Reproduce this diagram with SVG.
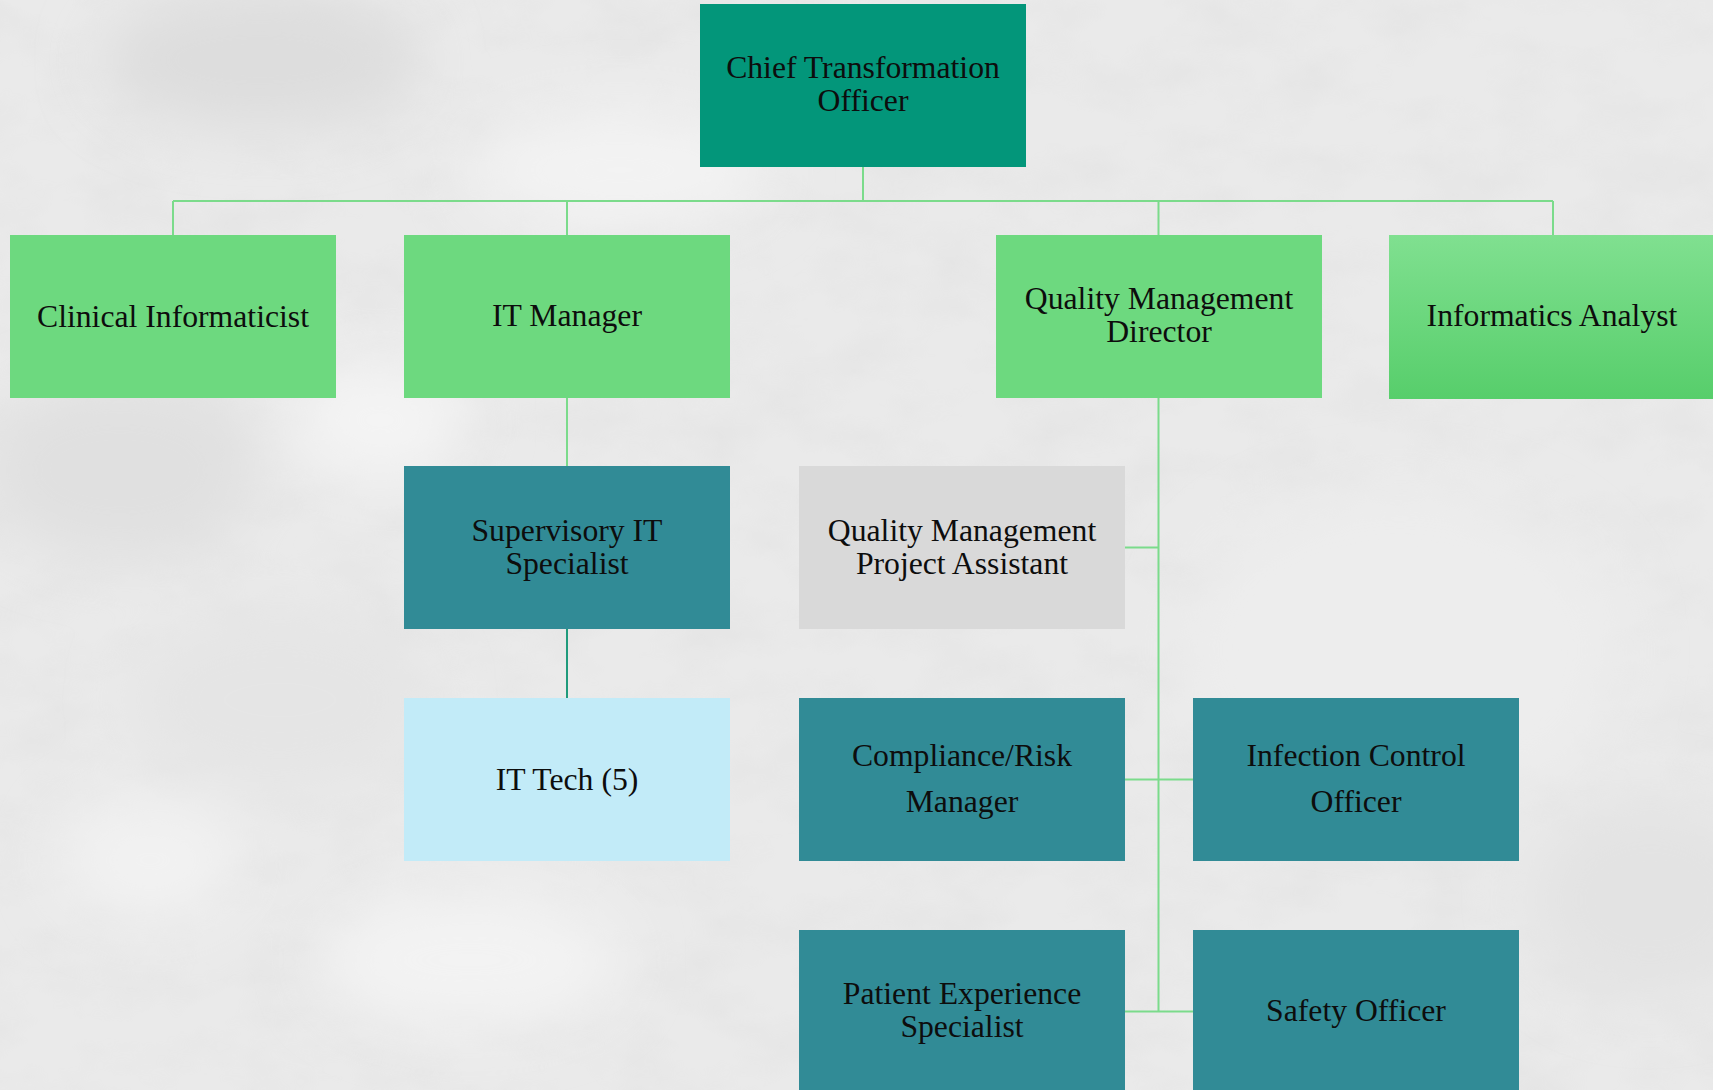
<svg xmlns="http://www.w3.org/2000/svg" width="1713" height="1090" viewBox="0 0 1713 1090">
  <defs>
    <style>
      .lbl { font-family: "Liberation Serif", "Times New Roman", serif; font-size: 31.7px; fill: #0d0d0d; text-anchor: middle; }
      .con { fill: none; stroke: #7bdb8b; stroke-width: 2; }
      .con-dark { fill: none; stroke: #1f9b7c; stroke-width: 2; }
      .root { fill: #03967a; }
      .green { fill: #6dd97f; }
      .teal { fill: #318b96; }
      .gray { fill: #d9d9d9; }
      .blue { fill: #c2ebf8; }
    </style>
    <linearGradient id="gGrad" x1="0" y1="0" x2="0" y2="1">
      <stop offset="0" stop-color="#80e090"/>
      <stop offset="1" stop-color="#57ce6b"/>
    </linearGradient>
    <filter id="blur" x="-50%" y="-50%" width="200%" height="200%">
      <feGaussianBlur stdDeviation="30"/>
    </filter>
    <filter id="noise" x="0" y="0" width="100%" height="100%">
      <feTurbulence type="fractalNoise" baseFrequency="0.012 0.02" numOctaves="4" seed="7"/>
      <feColorMatrix type="matrix" values="0 0 0 0 0.5  0 0 0 0 0.5  0 0 0 0 0.5  0 0 0 -1.4 0.85"/>
    </filter>
  </defs>

  <!-- background -->
  <g id="background">
    <rect x="0" y="0" width="1713" height="1090" fill="#eaeaea"/>
    <rect x="0" y="0" width="1713" height="1090" filter="url(#noise)" opacity="0.14"/>
    <g filter="url(#blur)">
      <ellipse cx="260" cy="60" rx="160" ry="70" fill="#dddddd"/>
      <ellipse cx="120" cy="470" rx="140" ry="90" fill="#e0e0e0"/>
      <ellipse cx="380" cy="420" rx="90" ry="60" fill="#f4f4f4"/>
      <ellipse cx="150" cy="860" rx="90" ry="60" fill="#f2f2f2"/>
      <ellipse cx="470" cy="960" rx="150" ry="70" fill="#f3f3f3"/>
      <ellipse cx="620" cy="170" rx="150" ry="60" fill="#f3f3f3"/>
      <ellipse cx="1400" cy="650" rx="220" ry="160" fill="#ededed"/>
      <ellipse cx="1650" cy="900" rx="120" ry="100" fill="#e3e3e3"/>
      <ellipse cx="280" cy="700" rx="150" ry="90" fill="#e5e5e5"/>
    </g>
  </g>

  <!-- connectors -->
  <g id="connectors">
    <path class="con" d="M863 167 V201"/>
    <path class="con" d="M173 201 H1553"/>
    <path class="con" d="M173 201 V235"/>
    <path class="con" d="M567 201 V235"/>
    <path class="con" d="M1158.5 201 V235"/>
    <path class="con" d="M1553 201 V235"/>
    <path class="con" d="M567 398 V466"/>
    <path class="con-dark" d="M567 629 V698"/>
    <path class="con" d="M1158.5 398 V1011.5"/>
    <path class="con" d="M1124 547.5 H1158.5"/>
    <path class="con" d="M1124 779.5 H1193"/>
    <path class="con" d="M1124 1011.5 H1193"/>
  </g>

  <!-- nodes -->
  <g id="node-cto">
    <rect class="root" x="700" y="4" width="326" height="163"/>
    <text class="lbl" x="863" y="78">Chief Transformation</text>
    <text class="lbl" x="863" y="110.5">Officer</text>
  </g>

  <g id="node-clinical-informaticist">
    <rect class="green" x="10" y="235" width="326" height="163"/>
    <text class="lbl" x="173" y="327.3">Clinical Informaticist</text>
  </g>

  <g id="node-it-manager">
    <rect class="green" x="404" y="235" width="326" height="163"/>
    <text class="lbl" x="567" y="326">IT Manager</text>
  </g>

  <g id="node-qm-director">
    <rect class="green" x="996" y="235" width="326" height="163"/>
    <text class="lbl" x="1159" y="309">Quality Management</text>
    <text class="lbl" x="1159" y="342">Director</text>
  </g>

  <g id="node-informatics-analyst">
    <rect fill="url(#gGrad)" x="1389" y="235" width="326" height="164"/>
    <text class="lbl" x="1552" y="326">Informatics Analyst</text>
  </g>

  <g id="node-supervisory-it">
    <rect class="teal" x="404" y="466" width="326" height="163"/>
    <text class="lbl" x="567" y="540.5">Supervisory IT</text>
    <text class="lbl" x="567" y="573.5">Specialist</text>
  </g>

  <g id="node-qm-project-assistant">
    <rect class="gray" x="799" y="466" width="326" height="163"/>
    <text class="lbl" x="962" y="540.5">Quality Management</text>
    <text class="lbl" x="962" y="573.5">Project Assistant</text>
  </g>

  <g id="node-it-tech">
    <rect class="blue" x="404" y="698" width="326" height="163"/>
    <text class="lbl" x="567" y="790">IT Tech (5)</text>
  </g>

  <g id="node-compliance">
    <rect class="teal" x="799" y="698" width="326" height="163"/>
    <text class="lbl" x="962" y="766">Compliance/Risk</text>
    <text class="lbl" x="962" y="811.7">Manager</text>
  </g>

  <g id="node-infection-control">
    <rect class="teal" x="1193" y="698" width="326" height="163"/>
    <text class="lbl" x="1356" y="766">Infection Control</text>
    <text class="lbl" x="1356" y="811.7">Officer</text>
  </g>

  <g id="node-patient-experience">
    <rect class="teal" x="799" y="930" width="326" height="163"/>
    <text class="lbl" x="962" y="1004">Patient Experience</text>
    <text class="lbl" x="962" y="1037">Specialist</text>
  </g>

  <g id="node-safety-officer">
    <rect class="teal" x="1193" y="930" width="326" height="163"/>
    <text class="lbl" x="1356" y="1021">Safety Officer</text>
  </g>
</svg>
